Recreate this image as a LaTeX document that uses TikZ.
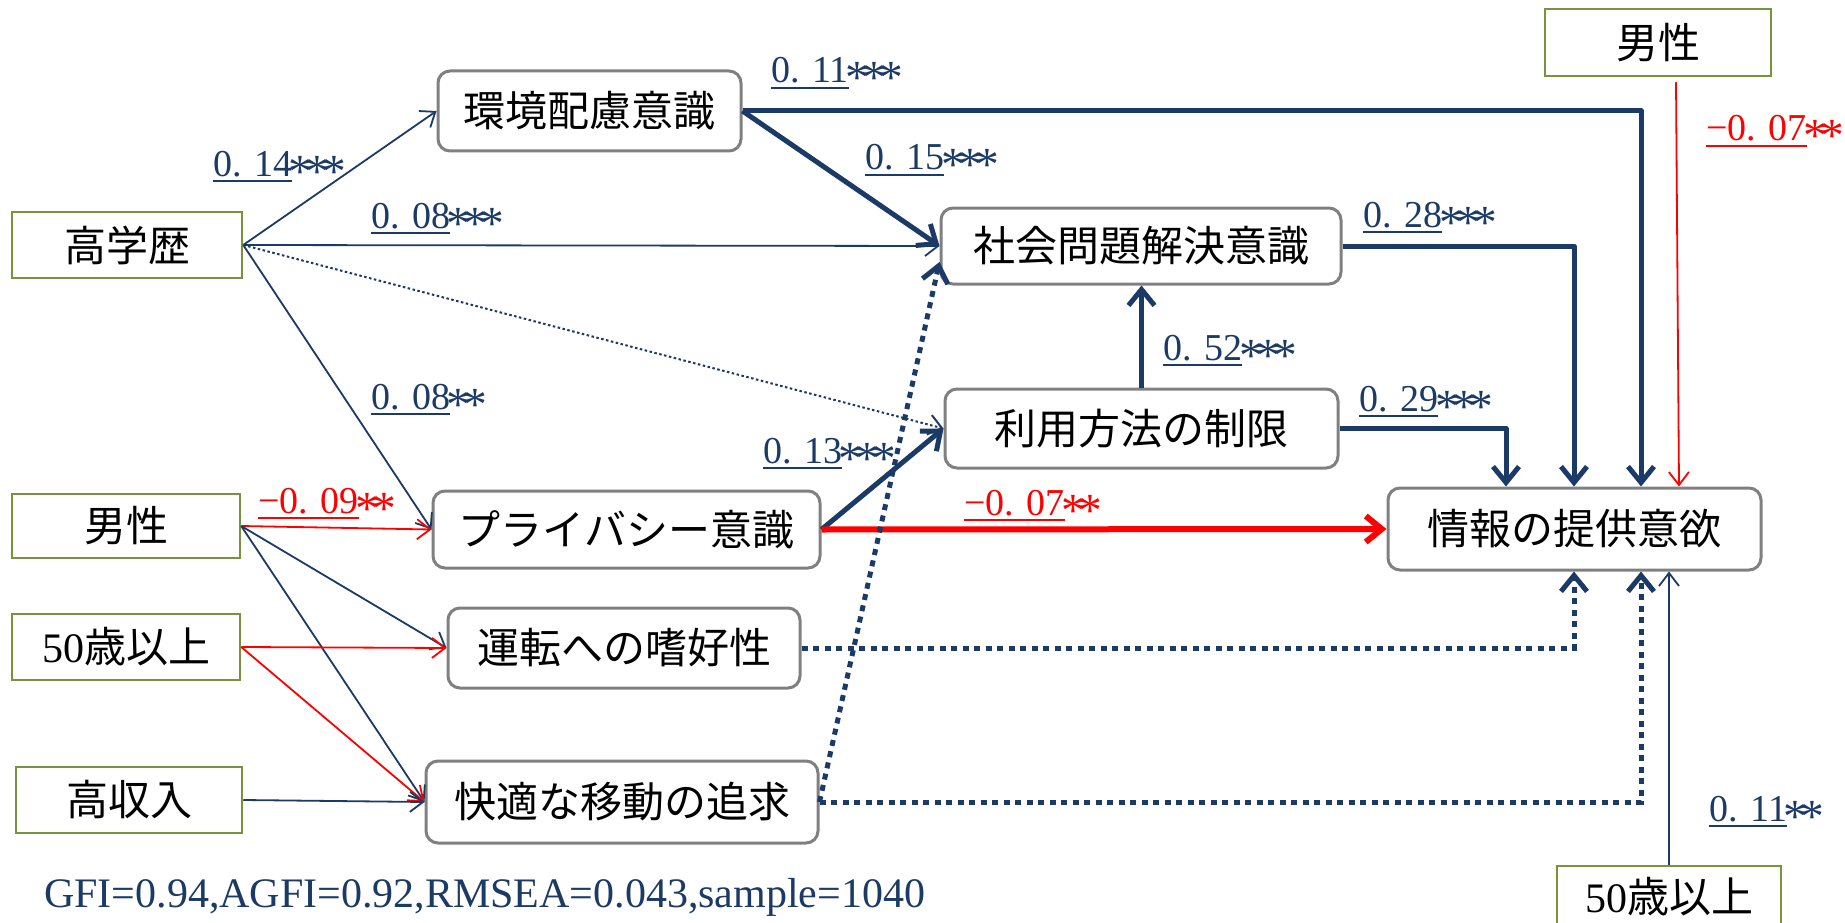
\documentclass[tikz,border=0pt]{standalone}
\usepackage{fontspec}
\setmainfont{Liberation Serif}
\newfontfamily\jpfont{Noto Sans CJK JP}
\usetikzlibrary{arrows.meta,calc}
\definecolor{navy}{HTML}{1B3A66}
\definecolor{boxgray}{HTML}{808080}
\definecolor{olivegr}{HTML}{77933C}
\definecolor{pred}{HTML}{FF0000}
\newsavebox\ulbox
\newcommand\ulnum[1]{\sbox\ulbox{#1}\rlap{\rule[-6pt]{\wd\ulbox}{2pt}}\usebox\ulbox}
\newcommand\st{\makebox[17pt]{\raisebox{-11pt}{\scalebox{1.25}{*}}}}
\tikzset{
  latent/.style={draw=boxgray, line width=3pt, rounded corners=12pt, fill=white, inner sep=0pt,
    font=\jpfont\fontsize{42}{46}\selectfont, text=black},
  obs/.style={draw=olivegr, line width=2.5pt, fill=white, inner sep=0pt,
    font=\jpfont\fontsize{42}{46}\selectfont, text=black},
  thinN/.style={draw=navy, line width=1.8pt, -{Straight Barb[length=13pt,width=20pt]}},
  thinR/.style={draw=pred, line width=1.8pt, -{Straight Barb[length=13pt,width=20pt]}},
  thickN/.style={draw=navy, line width=5pt, line join=round, -{Straight Barb[length=16pt,width=26pt]}},
  thickR/.style={draw=pred, line width=6pt, -{Straight Barb[length=16pt,width=26pt]}},
  dotN/.style={draw=navy, line width=5pt, dash pattern=on 6pt off 5.5pt, -{Straight Barb[length=16pt,width=26pt]}},
  thindot/.style={draw=navy, line width=2pt, dash pattern=on 2.5pt off 2.5pt, -{Straight Barb[length=13pt,width=20pt]}},
  coef/.style={anchor=base west, inner sep=0pt, font=\fontsize{38}{40}\selectfont, text=navy},
  coefR/.style={coef, text=pred},
}
\begin{document}
\begin{tikzpicture}[x=1pt, y=-1pt]
\fill[white] (0,0) rectangle (1845,923);
\useasboundingbox (0,0) rectangle (1845,923);
% nodes
\node[obs, minimum width=226pt, minimum height=67pt] (maleT) at (1658,42.5) {男性};
\node[latent, minimum width=303pt, minimum height=80pt] (env) at (589.5,111) {環境配慮意識};
\node[obs, minimum width=230pt, minimum height=66pt] (edu) at (127,245) {高学歴};
\node[latent, minimum width=400pt, minimum height=76pt] (soc) at (1141,246) {社会問題解決意識};
\node[latent, minimum width=393pt, minimum height=79pt] (use) at (1141.5,428.5) {利用方法の制限};
\node[latent, minimum width=373pt, minimum height=82pt] (info) at (1574.5,529) {情報の提供意欲};
\node[obs, minimum width=228pt, minimum height=64pt] (maleL) at (126,526) {男性};
\node[latent, minimum width=387pt, minimum height=77pt] (priv) at (626.5,529.5) {プライバシー意識};
\node[obs, minimum width=228pt, minimum height=66pt] (age) at (126,647) {{\rmfamily 50}歳以上};
\node[latent, minimum width=352pt, minimum height=80pt] (drive) at (624,648) {運転への嗜好性};
\node[obs, minimum width=226pt, minimum height=66pt] (inc) at (129,800) {高収入};
\node[latent, minimum width=392pt, minimum height=82pt] (comf) at (622,802) {快適な移動の追求};
\node[obs, minimum width=224pt, minimum height=62pt] (ageB) at (1669,897) {{\rmfamily 50}歳以上};
% bend points
\coordinate (b11) at (1641,111);
\coordinate (b28) at (1574,246);
\coordinate (b29) at (1506,428.5);
\coordinate (bd1) at (1574,648);
\coordinate (bd2) at (1641,802);
% exogenous paths
\draw[thinN] (edu.east) -- (env.west);
\draw[thinN] (edu.east) -- (soc.west);
\draw[thindot] (edu.east) -- (use.west);
\draw[thinN] (edu.east) -- (priv.west);
\draw[thinR] (maleL.east) -- (priv.west);
\draw[thinN] (maleL.east) -- (drive.west);
\draw[thinN] (maleL.east) -- (comf.west);
\draw[thinR] (age.east) -- (drive.west);
\draw[thinR] (age.east) -- (comf.west);
\draw[thinN] (inc.east) -- (comf.west);
% structural paths
\draw[thickN] (env.east) -- (soc.west);
\draw[thickN] (env.east) -- (b11) -- (b11 |- info.north);
\draw[thickN] (soc.east) -- (b28) -- (b28 |- info.north);
\draw[thickN] (use.east) -- (b29) -- (b29 |- info.north);
\draw[thickN] (use.north) -- (use.north |- soc.south);
\draw[thickN] (priv.east) -- (use.west);
\draw[thickR] (priv.east) -- (info.west);
\draw[dotN] (drive.east) -- (bd1) -- (bd1 |- info.south);
\draw[dotN] (comf.east) -- (bd2) -- (bd2 |- info.south);
\draw[dotN] (comf.east) -- ($(soc.west)+(0,16)$);
\draw[thinR] ($(maleT.south)+(18,5)$) -- ($(info.north)+(104.5,0)$);
\draw[thinN] (ageB.north) -- (ageB.north |- info.south);
% coefficients
\node[coef] (l1) at (213,176) {\ulnum{0. 14}\st\st\st};
\node[coef] (l2) at (371,228) {\ulnum{0. 08}\st\st\st};
\node[coef] (l3) at (771,83) {\ulnum{0. 11}\st\st\st};
\node[coef] (l4) at (865,170) {\ulnum{0. 15}\st\st\st};
\node[coef] (l5) at (1363,227) {\ulnum{0. 28}\st\st\st};
\node[coefR] (l6) at (1706,141) {\ulnum{−0. 07}\st\st};
\node[coef] (l7) at (1163,360) {\ulnum{0. 52}\st\st\st};
\node[coef] (l8) at (1359,411) {\ulnum{0. 29}\st\st\st};
\node[coef] (l9) at (371,409) {\ulnum{0. 08}\st\st};
\node[coef] (l10) at (763,463) {\ulnum{0. 13}\st\st\st};
\node[coefR] (l11) at (258,513) {\ulnum{−0. 09}\st\st};
\node[coefR] (l12) at (964,515) {\ulnum{−0. 07}\st\st};
\node[coef] (l13) at (1709,821) {\ulnum{0. 11}\st\st};
\node[anchor=base west, inner sep=0pt, text=navy, font=\fontsize{42}{44}\selectfont] (fit) at (44,907) {GFI=0.94,AGFI=0.92,RMSEA=0.043,sample=1040};
\end{tikzpicture}
\end{document}
